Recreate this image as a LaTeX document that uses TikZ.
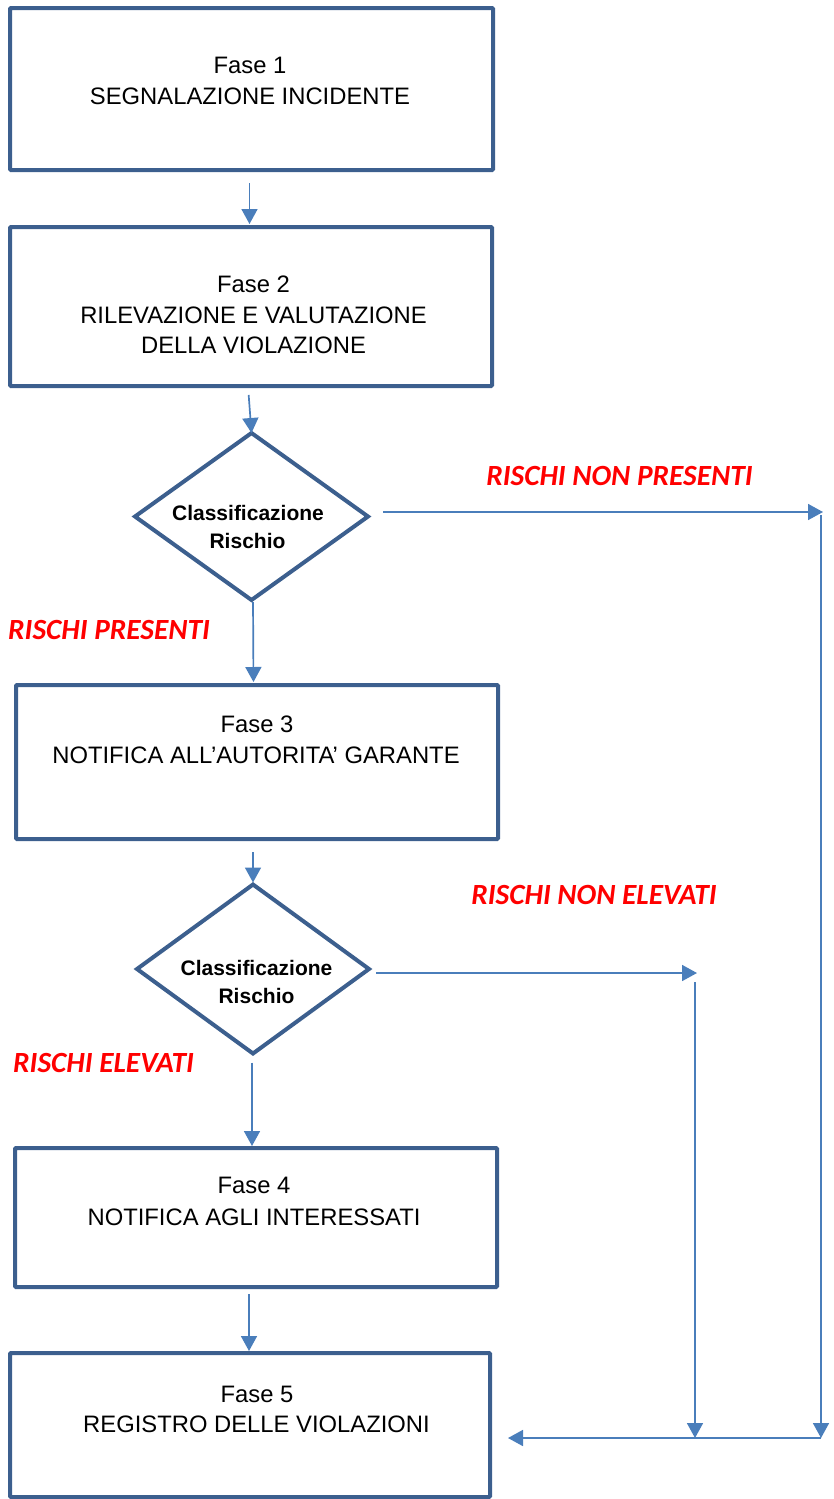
\documentclass[tikz,border=0pt]{standalone}
\usepackage{fontspec}
\setmainfont{Liberation Sans}
\newfontfamily\calib{Carlito}
\usetikzlibrary{arrows.meta,shapes.geometric}
\definecolor{boxblue}{RGB}{60,95,142}
\definecolor{arrowblue}{RGB}{74,126,187}
\definecolor{labred}{RGB}{255,0,0}
\tikzset{
  box/.style={draw=boxblue, line width=4pt, rectangle, rounded corners=1pt, inner sep=0pt, outer sep=0pt},
  dia/.style={draw=boxblue, line width=4pt, diamond, inner sep=0pt, outer sep=0pt},
  txt/.style={anchor=base, inner sep=0pt, font=\fontsize{23.8}{28}\selectfont},
  dtxt/.style={anchor=base, inner sep=0pt, font=\fontsize{21}{25}\selectfont\bfseries},
  lab/.style={anchor=base, inner sep=0pt, text=labred, font=\fontsize{29.3}{33}\selectfont\calib\bfseries\itshape},
  arr/.style={draw=arrowblue, line width=1.7pt, -{Triangle[length=15pt,width=16pt]}},
  seg/.style={draw=arrowblue, line width=1.7pt}
}
\begin{document}
\begin{tikzpicture}[x=1pt,y=-1pt]
\useasboundingbox (0,0) rectangle (833,1499);
% boxes
\node[box, minimum width=483pt, minimum height=162pt] (b1) at (251.5,89) {};
\node[box, minimum width=482pt, minimum height=159pt] (b2) at (251,306.5) {};
\node[box, minimum width=482pt, minimum height=154pt] (b3) at (257,762) {};
\node[box, minimum width=482pt, minimum height=139pt] (b4) at (256,1217.5) {};
\node[box, minimum width=480pt, minimum height=144pt] (b5) at (250,1425) {};
% diamonds
\node[dia, minimum width=233pt, minimum height=167pt] (d1) at (251.5,516.5) {};
\node[dia, minimum width=232pt, minimum height=169pt] (d2) at (253,969) {};
% box texts
\node[txt] (t1a) at (250,73) {Fase 1};
\node[txt] (t1b) at (250,104) {SEGNALAZIONE INCIDENTE};
\node[txt] (t2a) at (253.5,292) {Fase 2};
\node[txt] (t2b) at (253.5,323) {RILEVAZIONE E VALUTAZIONE};
\node[txt] (t2c) at (253.5,353) {DELLA VIOLAZIONE};
\node[txt] (t3a) at (257,732) {Fase 3};
\node[txt] (t3b) at (256,763) {NOTIFICA ALL’AUTORITA’ GARANTE};
\node[txt] (t4a) at (254,1193) {Fase 4};
\node[txt] (t4b) at (254,1225) {NOTIFICA AGLI INTERESSATI};
\node[txt] (t5a) at (257,1402) {Fase 5};
\node[txt] (t5b) at (256.5,1432) {REGISTRO DELLE VIOLAZIONI};
% diamond texts
\node[dtxt] (d1a) at (248,520) {Classificazione};
\node[dtxt] (d1b) at (247.5,548) {Rischio};
\node[dtxt] (d2a) at (256.5,975) {Classificazione};
\node[dtxt] (d2b) at (256.5,1003) {Rischio};
% red labels
\node[lab] (l1) at (619.5,485) {RISCHI NON PRESENTI};
\node[lab] (l2) at (109,639) {RISCHI PRESENTI};
\node[lab] (l3) at (594,904) {RISCHI NON ELEVATI};
\node[lab] (l4) at (103.5,1072) {RISCHI ELEVATI};
% main flow connectors
\draw[arr, shorten <=13pt, shorten >=3pt] ([xshift=-2pt]b1.south) -- ([xshift=-1.5pt]b2.north);
\draw[arr, shorten <=9pt] ([xshift=-3pt]b2.south) -- (d1.north);
\draw[arr, shorten <=2pt, shorten >=3pt] ([xshift=1.5pt]d1.south) -- ([xshift=-3.5pt]b3.north);
\draw[arr, shorten <=13pt, shorten >=2pt] ([xshift=-4pt]b3.south) -- (d2.north);
\draw[arr, shorten <=9pt, shorten >=2pt] ([xshift=-1pt]d2.south) -- ([xshift=-4pt]b4.north);
\draw[arr, shorten <=7pt, shorten >=2pt] ([xshift=-7pt]b4.south) -- ([xshift=-1pt]b5.north);
% side routes
\coordinate (r1) at (823,512);
\coordinate (r2) at (821,1438);
\coordinate (q1) at (697,973);
\coordinate (q2) at (695,1438);
\draw[arr, shorten <=15pt] (d1.east |- r1) -- (r1);
\draw[arr, shorten <=3pt] (r2 |- r1) -- (r2);
\draw[arr, shorten <=7pt] (d2.east |- q1) -- (q1);
\draw[arr, shorten <=9pt] (q2 |- q1) -- (q2);
\draw[arr, shorten >=18pt] (r2) -- (b5.east |- r2);
\end{tikzpicture}
\end{document}
